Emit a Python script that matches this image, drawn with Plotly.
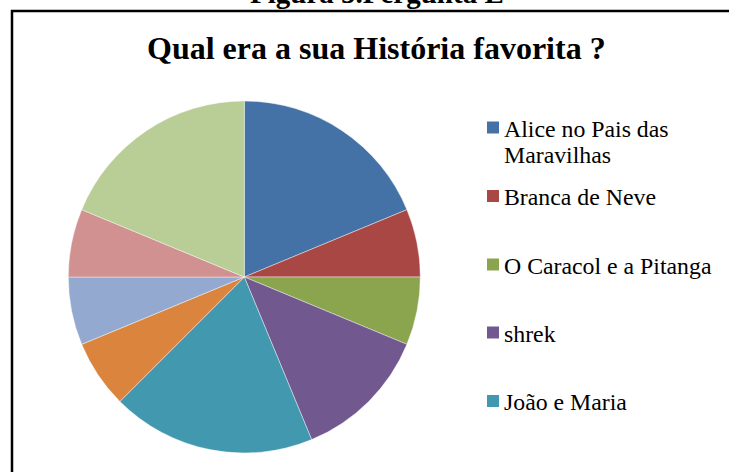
import plotly.graph_objects as go

# ---- data ----
labels = [
    "Alice no Pais das Maravilhas",
    "Branca de Neve",
    "O Caracol e a Pitanga",
    "shrek",
    "João e Maria",
    "História 6",
    "História 7",
    "História 8",
    "História 9",
]
values = [3, 1, 1, 2, 3, 1, 1, 1, 3]
colors = ["#4472A6", "#A94745", "#8AA54E", "#71588F", "#4298AE",
          "#DA843E", "#93A9CF", "#D09190", "#B9CD97"]
legend_lines = [
    ["Alice no Pais das", "Maravilhas"],
    ["Branca de Neve"],
    ["O Caracol e a Pitanga"],
    ["shrek"],
    ["João e Maria"],
]
fig_title = "Figura 5.Pergunta E"
chart_title = "Qual era a sua História favorita ?"

W, H = 729, 472
FONT = "Liberation Serif"


def px(x):
    return x / W


def py(y):
    return 1 - y / H


cx, cy, r = 244.3, 277, 176

fig = go.Figure(go.Pie(
    labels=labels,
    values=values,
    sort=False,
    direction="clockwise",
    rotation=0,
    textinfo="none",
    hoverinfo="label+value+percent",
    marker=dict(colors=colors, line=dict(color="rgba(255,255,255,0.6)", width=0.7)),
    domain=dict(x=[px(cx - r), px(cx + r)], y=[py(cy + r), py(cy - r)]),
    showlegend=False,
))

shapes = [
    dict(type="rect", xref="paper", yref="paper",
         x0=px(12), x1=1.05, y0=py(11), y1=-0.05,
         line=dict(color="black", width=2.5), fillcolor="rgba(0,0,0,0)", layer="above"),
]
annotations = [
    dict(text="<b>" + fig_title + "</b>", x=px(377), y=py(11), xref="paper", yref="paper",
         xanchor="center", yanchor="bottom", showarrow=False,
         font=dict(family=FONT, size=29, color="black")),
    dict(text="<b>" + chart_title + "</b>", x=px(376.5), y=py(48), xref="paper", yref="paper",
         xanchor="center", yanchor="middle", showarrow=False,
         font=dict(family=FONT, size=32, color="black")),
]

# legend (first five entries visible in the reference)
marker_y = [127.5, 196, 264.5, 332.5, 401]
line_gap = 27
for i, lines in enumerate(legend_lines):
    my = marker_y[i]
    shapes.append(dict(type="rect", xref="paper", yref="paper",
                       x0=px(487), x1=px(499), y0=py(my + 6), y1=py(my - 6),
                       fillcolor=colors[i], line=dict(width=0)))
    for j, txt in enumerate(lines):
        annotations.append(dict(text=txt, x=px(502), y=py(my + 1 + j * line_gap),
                                xref="paper", yref="paper",
                                xanchor="left", yanchor="middle", align="left",
                                showarrow=False,
                                font=dict(family=FONT, size=23.8, color="black")))

fig.update_layout(
    width=W, height=H,
    margin=dict(l=0, r=0, t=0, b=0),
    paper_bgcolor="white",
    plot_bgcolor="white",
    shapes=shapes,
    annotations=annotations,
    font=dict(family=FONT),
)

fig.write_html("out.html",
               config={"displayModeBar": False},
               post_script="document.body.style.margin='0';document.body.style.overflow='hidden';")
